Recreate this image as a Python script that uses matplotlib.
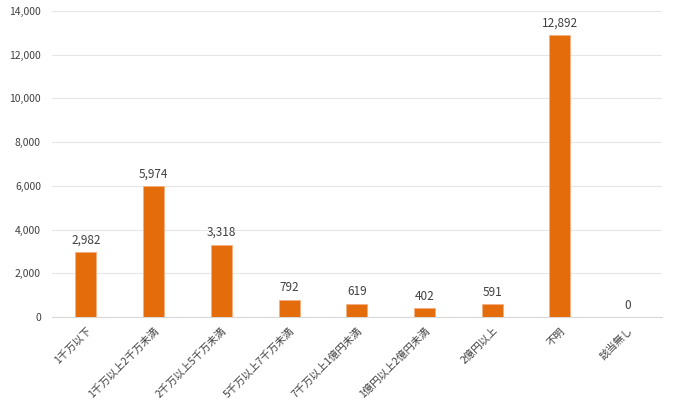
import numpy as np
import matplotlib.pyplot as plt

plt.rcParams['font.family'] = ['Noto Sans CJK JP', 'DejaVu Sans']

# ============================================================
# DATA
# ============================================================
categories = ["1千万以下", "1千万以上2千万未満", "2千万以上5千万未満", "5千万以上7千万未満",
              "7千万以上1億円未満", "1億円以上2億円未満", "2億円以上", "不明", "該当無し"]
values = [2982, 5974, 3318, 792, 619, 402, 591, 12892, 0]
yticks = [0, 2000, 4000, 6000, 8000, 10000, 12000, 14000]

# ============================================================
# PLOT
# ============================================================
fig = plt.figure(figsize=(6.88, 4.15), dpi=100)
ax = fig.add_axes([0.0756, 0.236, 0.886, 0.7375])

x = np.arange(len(categories))
bars = ax.bar(x, values, width=0.31, color="#E46C0A", edgecolor="#F4B183", linewidth=0.6, zorder=3)

for xi, v in zip(x, values):
    ax.text(xi, v + 250, f"{v:,}", ha="center", va="bottom", fontsize=8.5, color="#404040")

ax.set_xlim(-0.5, len(categories) - 0.5)
ax.set_ylim(0, 14000)
ax.set_yticks(yticks)
ax.set_yticklabels([f"{t:,}" for t in yticks], fontsize=7.5, color="#404040")
ax.set_xticks(x)
ax.set_xticklabels(categories, rotation=45, ha="right", rotation_mode="anchor",
                   fontsize=7.5, color="#404040")
ax.tick_params(axis="both", length=0)
ax.tick_params(axis="x", pad=6)
ax.tick_params(axis="y", pad=8)

ax.grid(axis="y", color="#E6E6E6", linewidth=0.8, zorder=0)
for s in ["top", "right", "left"]:
    ax.spines[s].set_visible(False)
ax.spines["bottom"].set_color("#D9D9D9")

fig.savefig("out.png", dpi=100)
